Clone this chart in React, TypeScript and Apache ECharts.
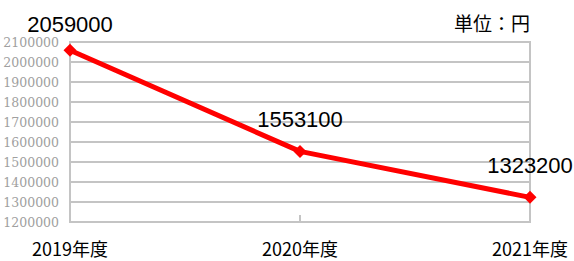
import React, { useEffect, useRef } from "react";
import * as echarts from "echarts";

const categories = ["2019年度", "2020年度", "2021年度"];
const values = [2059000, 1553100, 1323200];
const yMin = 1200000;
const yMax = 2100000;
const yStep = 100000;
const unitText = "単位：円";

export default function App() {
  const ref = useRef<HTMLDivElement>(null);
  useEffect(() => {
    document.body.style.margin = "0";
    const chart = echarts.init(ref.current!, null, { renderer: "svg" });
    const gridColor = "#c4c4c4";
    chart.setOption({
      animation: false,
      backgroundColor: "#ffffff",
      grid: {
        left: 70,
        right: 44,
        top: 42,
        bottom: 39,
        show: true,
        borderColor: gridColor,
        borderWidth: 2,
        backgroundColor: "transparent",
      },
      graphic: [
        {
          type: "text",
          right: 44,
          top: 13,
          style: {
            text: unitText,
            fontSize: 19,
            fill: "#000",
            fontFamily: "Noto Sans CJK JP",
          },
        },
      ],
      xAxis: {
        type: "category",
        data: categories,
        boundaryGap: false,
        axisLine: { show: true, lineStyle: { color: gridColor, width: 2 } },
        axisTick: { show: true, inside: true, length: 7, lineStyle: { color: gridColor, width: 2 } },
        axisLabel: {
          fontSize: 18,
          color: "#000",
          margin: 17,
          fontFamily: "Noto Sans CJK JP",
          showMinLabel: true,
          showMaxLabel: true,
        },
        splitLine: { show: false },
      },
      yAxis: {
        type: "value",
        min: yMin,
        max: yMax,
        interval: yStep,
        axisLine: { show: true, lineStyle: { color: gridColor, width: 2 } },
        axisTick: { show: false },
        axisLabel: {
          fontSize: 12.5,
          color: "#a0a0a0",
          margin: 11,
          fontFamily: "DejaVu Serif, serif",
          formatter: (v: number) => String(v),
        },
        splitLine: { show: true, lineStyle: { color: gridColor, width: 2 } },
      },
      series: [
        {
          type: "line",
          data: values.map((v, i) =>
            i === 0 ? { value: v, label: { distance: 8 } } : v
          ),
          color: "#ff0000",
          lineStyle: { color: "#ff0000", width: 5 },
          itemStyle: { color: "#ff0000" },
          symbol: "diamond",
          symbolSize: 13,
          label: {
            show: true,
            position: "top",
            distance: 14,
            fontSize: 22,
            color: "#000",
            fontFamily: "Liberation Sans",
          },
        },
      ],
    });
    return () => chart.dispose();
  }, []);
  return <div ref={ref} style={{ width: 574, height: 261 }} />;
}
